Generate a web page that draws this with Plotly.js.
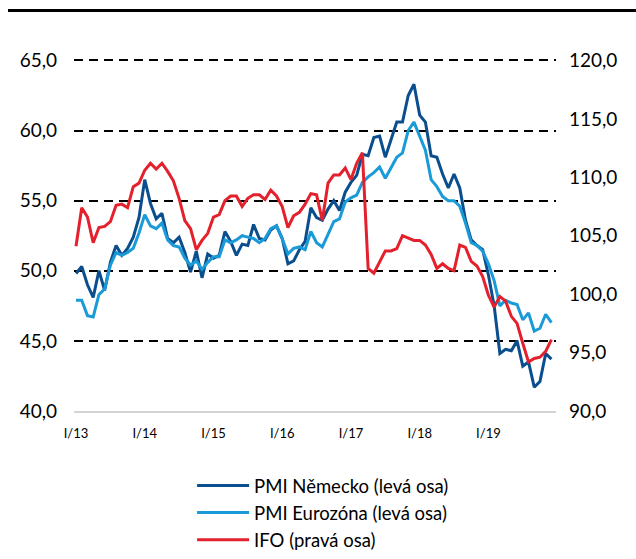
<!DOCTYPE html>
<html>
<head>
<meta charset="utf-8">
<script src="https://cdn.plot.ly/plotly-3.0.1.min.js"></script>
<style>html,body{margin:0;padding:0;background:#fff;}#wrap{position:relative;width:636px;height:559px;}#chart{width:636px;height:559px;}#topline{position:absolute;left:8px;top:9px;width:628px;height:3px;background:#000;}</style>
</head>
<body>
<div id="wrap"><div id="chart"></div><div id="topline"></div></div>
<script>
const months = Array.from({length: 84}, (_, i) => i);
const tickPos = [0, 12, 24, 36, 48, 60, 72];
const tickLabels = ["I/13", "I/14", "I/15", "I/16", "I/17", "I/18", "I/19"];

const pmiGermany = [
  49.8, 50.3, 49.0, 48.1, 50.0, 48.6, 50.6, 51.8, 51.1, 51.6, 52.4, 53.8,
  56.5, 54.8, 53.7, 54.1, 52.3, 52.0, 52.4, 51.3, 49.9, 51.4, 49.5, 51.2,
  50.9, 51.1, 52.8, 52.1, 51.1, 51.9, 51.8, 53.3, 52.3, 52.2, 52.9, 53.2,
  52.3, 50.5, 50.7, 51.5, 52.1, 54.5, 53.8, 53.6, 54.4, 55.0, 54.3, 55.6,
  56.3, 56.8, 58.3, 58.2, 59.5, 59.6, 58.1, 59.3, 60.6, 60.6, 62.5, 63.3,
  61.1, 60.6, 58.2, 58.1, 56.9, 55.9, 56.9, 55.9, 53.6, 52.2, 51.8, 51.5,
  49.7, 47.5, 44.1, 44.4, 44.3, 45.0, 43.2, 43.5, 41.7, 42.1, 44.1, 43.7
];
const pmiEurozone = [
  47.9, 47.9, 46.8, 46.7, 48.3, 48.7, 50.4, 51.3, 51.1, 51.3, 51.6, 52.7,
  54.0, 53.2, 53.0, 53.4, 52.2, 51.8, 51.7, 50.9, 50.4, 50.7, 50.1, 50.6,
  51.0, 51.0, 52.2, 52.0, 52.2, 52.5, 52.4, 52.3, 52.0, 52.3, 53.0, 53.2,
  52.3, 51.2, 51.6, 51.7, 51.5, 52.8, 52.0, 51.7, 52.6, 53.5, 53.7, 54.9,
  55.2, 55.4, 56.3, 56.7, 57.0, 57.4, 56.6, 57.4, 58.1, 58.4, 60.0, 60.6,
  59.6, 58.6, 56.5, 56.0, 55.3, 55.0, 55.0, 54.6, 53.4, 52.0, 51.8, 51.4,
  50.5, 49.3, 47.5, 47.9, 47.7, 47.6, 46.5, 47.0, 45.7, 45.9, 46.9, 46.3
];
const ifo = [
  104.1, 107.4, 106.6, 104.4, 105.7, 105.8, 106.2, 107.6, 107.7, 107.4, 109.2, 109.5,
  110.6, 111.2, 110.7, 111.2, 110.5, 109.7, 108.2, 106.3, 105.6, 103.8, 104.6, 105.2,
  106.6, 106.8, 108.0, 108.4, 108.4, 107.5, 108.2, 108.5, 108.5, 108.1, 108.9, 108.4,
  107.5, 105.7, 106.7, 107.0, 107.7, 108.6, 108.5, 106.3, 109.5, 110.2, 110.2, 110.8,
  109.8, 111.2, 112.1, 102.2, 101.8, 102.8, 103.7, 103.7, 103.9, 105.0, 104.8, 104.6,
  104.6, 104.2, 103.4, 102.2, 102.6, 102.2, 102.0, 104.2, 104.0, 102.8, 102.4, 101.5,
  99.9, 98.9, 99.8, 99.4, 98.1, 97.5, 95.8, 94.2, 94.5, 94.6, 95.1, 96.1
];
const seriesNames = ["PMI Německo (levá osa)", "PMI Eurozóna (levá osa)", "IFO (pravá osa)"];
const colors = ["#0b4e8e", "#1b9ad8", "#e3202b"];

const font = "Lato, 'Open Sans', sans-serif";

const traces = [
  {x: months, y: pmiGermany, name: seriesNames[0], type: "scatter", mode: "lines",
   line: {color: colors[0], width: 3}, yaxis: "y"},
  {x: months, y: pmiEurozone, name: seriesNames[1], type: "scatter", mode: "lines",
   line: {color: colors[1], width: 3}, yaxis: "y"},
  {x: months, y: ifo, name: seriesNames[2], type: "scatter", mode: "lines",
   line: {color: colors[2], width: 3}, yaxis: "y2"}
];

const layout = {
  width: 636, height: 559,
  margin: {l: 74, r: 80, t: 51.6, b: 148, autoexpand: false},
  paper_bgcolor: "#ffffff", plot_bgcolor: "#ffffff",
  separators: ", ",
  font: {family: font, color: "#000000", size: 19},
  showlegend: true,
  legend: {
    x: 0.245, y: -0.156, xanchor: "left", yanchor: "top",
    orientation: "v", font: {family: font, size: 18.5, color: "#000"},
    itemwidth: 52, tracegroupgap: 0, bgcolor: "rgba(0,0,0,0)"
  },
  xaxis: {
    range: [-0.35, 83.8], tickmode: "array", tickvals: tickPos, ticktext: tickLabels,
    showgrid: false, zeroline: false, showline: true, linecolor: "#d4d4d4", linewidth: 2,
    ticks: "", tickfont: {family: font, size: 13, color: "#000"}, ticklabelstandoff: 9
  },
  yaxis: {
    range: [40, 65.6], tickmode: "array", tickvals: [40, 45, 50, 55, 60, 65],
    tickformat: ".1f", showgrid: true, gridcolor: "#000000", gridwidth: 2, griddash: "9px,6px",
    zeroline: false, showline: false, ticks: "", tickfont: {family: font, size: 19, color: "#000"},
    ticklabelstandoff: 16
  },
  yaxis2: {
    range: [90, 120.72], overlaying: "y", side: "right", tickmode: "array",
    tickvals: [90, 95, 100, 105, 110, 115, 120], tickformat: ".1f",
    showgrid: false, zeroline: false, showline: false, ticks: "",
    tickfont: {family: font, size: 19, color: "#000"}, ticklabelstandoff: 12
  }
};

Plotly.newPlot("chart", traces, layout, {displayModeBar: false, staticPlot: true});
</script>
</body>
</html>
